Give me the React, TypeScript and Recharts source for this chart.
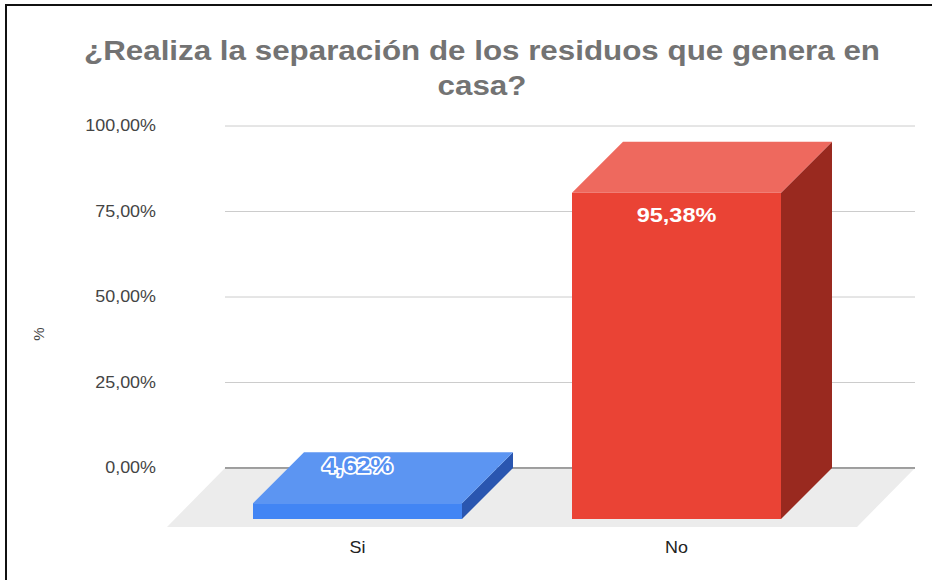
import { BarChart, Bar, XAxis, YAxis, CartesianGrid, LabelList } from "recharts";

const categories = ["Si", "No"];
const percentValues = [4.62, 95.38];
const valueLabels = ["4,62%", "95,38%"];
const yTicks = [0, 25, 50, 75, 100];
const yTickLabels = ["0,00%", "25,00%", "50,00%", "75,00%", "100,00%"];

const palette = [
  { front: "#4285f4", top: "#5c95f2", side: "#2a56b0", text: "#5590f2" },
  { front: "#ea4335", top: "#ee695e", side: "#99291f", text: "#fff" },
];

// 3D offsets (front face relative to back plane)
const DX = -51;
const DY = 51;
const FLOOR_DX = -58;
const FLOOR_DY = 59;
// the source image is slightly stretched horizontally
const SX = 1.12;

const data = categories.map((c, i) => ({ name: c, value: percentValues[i], idx: i }));

const FONT = "'Liberation Sans', Arial, sans-serif";

function Box3D(props: any) {
  const { x, y, width: w, height: h, payload } = props;
  const c = palette[payload.idx];
  const top = `${x},${y} ${x + w},${y} ${x + w + DX},${y + DY} ${x + DX},${y + DY}`;
  const side = `${x + w},${y} ${x + w},${y + h} ${x + w + DX},${y + h + DY} ${x + w + DX},${y + DY}`;
  return (
    <g>
      <polygon points={side} fill={c.side} />
      <polygon points={top} fill={c.top} />
      <rect x={x + DX} y={y + DY} width={w} height={h} fill={c.front} />
    </g>
  );
}

function Floor(props: any) {
  const { x1, y1, x2, y2 } = props;
  const pts = `${x1},${y1} ${x2},${y2} ${x2 + FLOOR_DX},${y2 + FLOOR_DY} ${x1 + FLOOR_DX},${y1 + FLOOR_DY}`;
  return (
    <g>
      <polygon points={pts} fill="#ececec" />
      <line x1={x1} y1={y1} x2={x2} y2={y2} stroke="#555" strokeWidth={1.2} />
    </g>
  );
}

function ValueLabel(props: any) {
  const { x, y, width, height, index } = props;
  const cx = x + width / 2 + DX;
  const tall = height > 40;
  const ty = tall ? y + DY + 22 : y + 13;
  const c = palette[index];
  return (
    <text
      transform={`translate(${cx} ${ty}) scale(${SX} 1)`}
      textAnchor="middle"
      dominantBaseline="central"
      fontFamily={FONT}
      fontWeight="bold"
      fontSize={tall ? 21 : 22}
      fill={c.text}
      stroke={tall ? "none" : "#fff"}
      strokeWidth={tall ? 0 : 3.5}
      strokeLinejoin="round"
      paintOrder="stroke"
    >
      {valueLabels[index]}
    </text>
  );
}

function XTick(props: any) {
  const { x, y, payload } = props;
  return (
    <text transform={`translate(${x + DX} ${y + 77}) scale(${SX} 1)`} textAnchor="middle" fontFamily={FONT} fontSize={16} fill="#222">
      {payload.value}
    </text>
  );
}

function YTick(props: any) {
  const { x, y, payload } = props;
  const i = yTicks.indexOf(payload.value);
  return (
    <text transform={`translate(${x} ${y + 5}) scale(${SX} 1)`} textAnchor="end" fontFamily={FONT} fontSize={16} fill="#444">
      {yTickLabels[i]}
    </text>
  );
}

export default function App() {
  return (
    <div style={{ position: "fixed", left: 0, top: 0, width: 932, height: 580, background: "#fff" }}>
      <div style={{ position: "absolute", left: 5, top: 4, width: 2, height: 576, background: "#111" }} />
      <div style={{ position: "absolute", left: 5, top: 4, width: 927, height: 2, background: "#111" }} />
      <svg width={932} height={100} style={{ position: "absolute", left: 0, top: 0 }}>
        <text x={482} y={60} textAnchor="middle" fontFamily={FONT} fontWeight="bold" fontSize={28} fill="#737373" textLength={796} lengthAdjust="spacingAndGlyphs">
          ¿Realiza la separación de los residuos que genera en
        </text>
        <text transform={`translate(482 95) scale(${SX} 1)`} textAnchor="middle" fontFamily={FONT} fontWeight="bold" fontSize={28} fill="#737373">
          casa?
        </text>
      </svg>
      <div style={{ position: "absolute", left: 0, top: 0 }}>
        <BarChart
          width={932}
          height={580}
          data={data}
          margin={{ top: 126, right: 17, bottom: 82, left: 0 }}
          barSize={209}
        >
          <CartesianGrid vertical={false} stroke="#cccccc" />
          <CartesianGrid vertical={false} horizontalValues={[0]} horizontal={<Floor />} />
          <XAxis
            dataKey="name"
            axisLine={false}
            tickLine={false}
            padding={{ left: 24, right: 28 }}
            tick={<XTick />}
            interval={0}
          />
          <YAxis
            width={225}
            domain={[0, 100]}
            ticks={yTicks}
            axisLine={false}
            tickLine={false}
            tickMargin={63}
            tick={<YTick />}
            label={{
              content: () => (
                <text x={44} y={334} textAnchor="middle" fontFamily={FONT} fontSize={15} fill="#444" transform="rotate(-90 44 334)">
                  %
                </text>
              ),
            }}
          />
          <Bar dataKey="value" shape={<Box3D />} isAnimationActive={false}>
            <LabelList dataKey="value" content={<ValueLabel />} />
          </Bar>
        </BarChart>
      </div>
    </div>
  );
}
